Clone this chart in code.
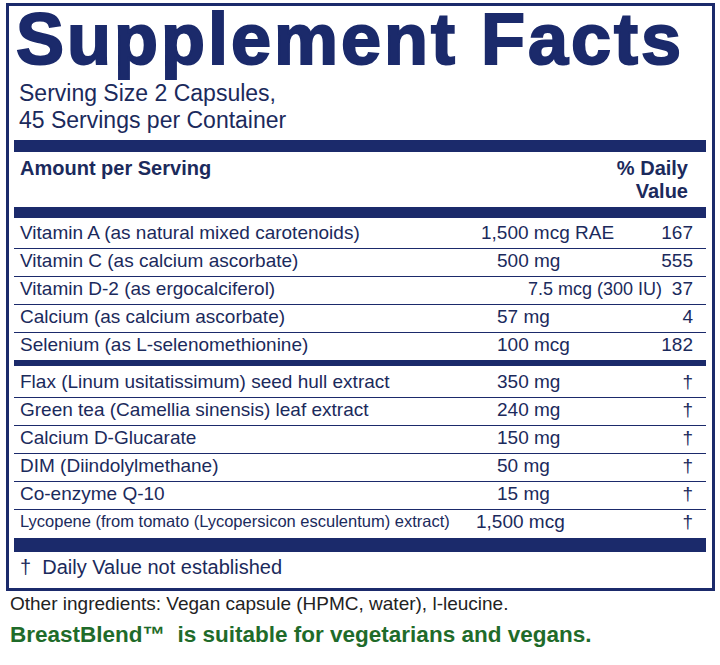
<!DOCTYPE html>
<html><head><meta charset="utf-8">
<script src="https://cdn.jsdelivr.net/npm/chart.js@4"></script>
<style>
body{margin:0;width:720px;height:665px;background:#fff;font-family:"Liberation Sans",Arial,sans-serif;color:#1b2a5c;position:relative;overflow:hidden}
.box{position:absolute;left:6px;top:3px;width:703px;height:582px;border:3px solid #1b2a6b}
.a{position:absolute;white-space:nowrap}
.bar{position:absolute;left:14px;width:692px;background:#1b2a6b}
.ln{position:absolute;left:14px;width:692px;height:1px;background:#1b2a6b}
.t{font-size:19px;color:#1b2a5c}
</style></head><body>
<div class="box"></div>
<div class="a" style="left:16px;top:-2px;font-size:72px;font-weight:900;letter-spacing:3px;color:#1b2a6b;-webkit-text-stroke:2px #1b2a6b">Supplement Facts</div>
<div class="a t" style="left:19px;top:80px;font-size:23px">Serving Size 2 Capsules,</div>
<div class="a t" style="left:19px;top:107px;font-size:23px">45 Servings per Container</div>
<div class="bar" style="top:140px;height:12px"></div>
<div class="a" style="left:20px;top:157px;font-size:20px;font-weight:bold">Amount per Serving</div>
<div class="a" style="right:32px;top:157px;font-size:20px;font-weight:bold;text-align:right">% Daily<br>Value</div>
<div class="bar" style="top:207px;height:11px"></div>
<div id="rows"></div>
<div class="a t" style="left:20px;top:556px;font-size:20px">†&nbsp; Daily Value not established</div>
<div class="a" style="left:10px;top:593px;font-size:19px;color:#222">Other ingredients: Vegan capsule (HPMC, water), l-leucine.</div>
<div class="a" style="left:10px;top:622px;font-size:22.5px;font-weight:bold;color:#1f6b2a">BreastBlend™&nbsp; is suitable for vegetarians and vegans.</div>
<script>
const vitaminNames=["Vitamin A (as natural mixed carotenoids)","Vitamin C (as calcium ascorbate)","Vitamin D-2 (as ergocalciferol)","Calcium (as calcium ascorbate)","Selenium (as L-selenomethionine)"];
const vitaminAmounts=["1,500 mcg RAE","500 mg","7.5 mcg (300 IU)","57 mg","100 mcg"];
const vitaminDV=["167","555","37","4","182"];
const otherNames=["Flax (Linum usitatissimum) seed hull extract","Green tea (Camellia sinensis) leaf extract","Calcium D-Glucarate","DIM (Diindolylmethane)","Co-enzyme Q-10","Lycopene (from tomato (Lycopersicon esculentum) extract)"];
const otherAmounts=["350 mg","240 mg","150 mg","50 mg","15 mg","1,500 mcg"];
const otherDV=["†","†","†","†","†","†"];
const R=document.getElementById('rows');let h='';
function row(y,n,a,d,small,ax,asz){h+=`<div class="a t" style="left:20px;top:${y}px;${small?'font-size:16.5px;top:'+(y+1)+'px':''}">${n}</div><div class="a t" style="left:${ax}px;top:${y}px;${asz?'font-size:'+asz+'px;top:'+(y+1)+'px':''}">${a}</div><div class="a t" style="right:27px;top:${y}px">${d}</div>`;}
vitaminNames.forEach((n,i)=>{const y=222+i*28;row(y,n,vitaminAmounts[i],vitaminDV[i],false,i==2?528:(i==0?481:497),i==2?18:0);if(i<4)h+=`<div class="ln" style="top:${y+26}px"></div>`;});
h+=`<div class="bar" style="top:360px;height:6px"></div>`;
otherNames.forEach((n,i)=>{const y=371+i*28;row(y,n,otherAmounts[i],otherDV[i],i==5,i==5?476:497);if(i<5)h+=`<div class="ln" style="top:${y+26}px"></div>`;});
h+=`<div class="bar" style="top:538px;height:14px"></div>`;
R.innerHTML=h;
</script>
</body></html>
